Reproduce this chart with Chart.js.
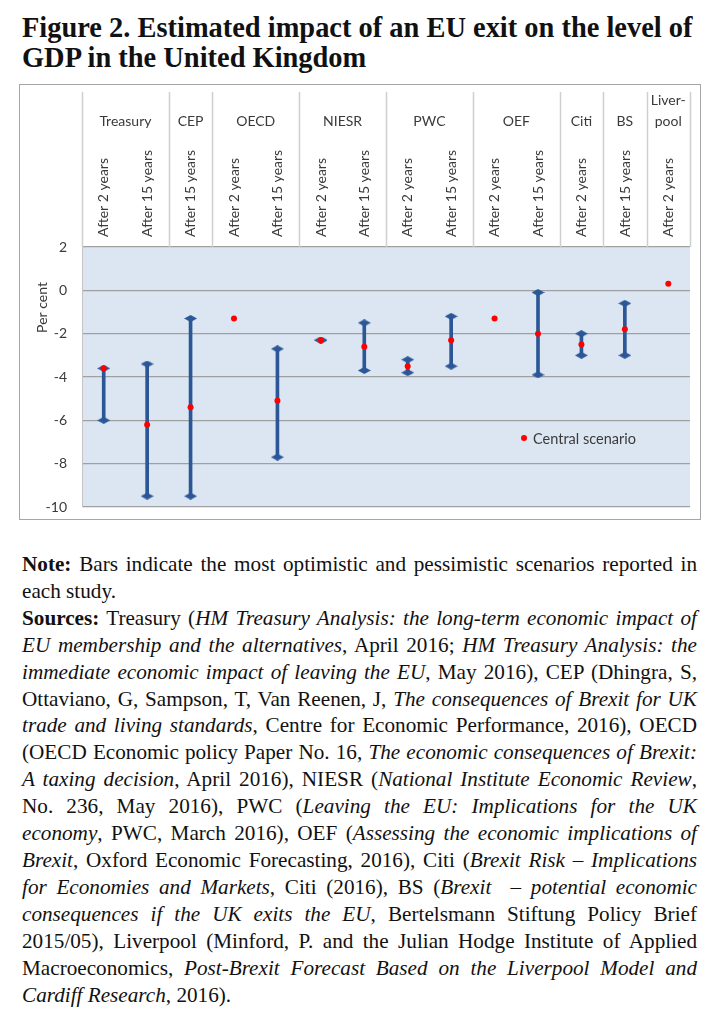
<!DOCTYPE html>
<html>
<head>
<meta charset="utf-8">
<script src="https://cdn.jsdelivr.net/npm/chart.js@4.4.1/dist/chart.umd.min.js"></script>
<style>
    body { margin: 0; background: #fff; width: 723px; height: 1024px; position: relative; overflow: hidden; }
    .titulo {
        position: absolute; left: 22px; top: 12px;
        font-family: "Liberation Serif", serif; font-weight: bold;
        font-size: 29px; line-height: 30px; color: #111;
        transform: scaleX(0.98); transform-origin: left top; white-space: nowrap;
    }
    .caja {
        position: absolute; left: 19px; top: 84px; width: 680px; height: 434px;
        border: 1px solid #a6a6a6;
    }
    .nota {
        position: absolute; left: 22px; top: 551px; width: 675px;
        font-family: "Liberation Serif", serif; font-size: 21.2px; line-height: 26.9px;
        color: #111; text-align: justify;
    }
    .nota p { margin: 0; }
</style>
</head>
<body>

<div class="titulo">Figure 2. Estimated impact of an EU exit on the level of<br>GDP in the United Kingdom</div>

<div class="caja"><canvas id="brexitChart"></canvas></div>

<div class="nota">
    <p><b>Note:</b> Bars indicate the most optimistic and pessimistic scenarios reported in each study.</p>
    <p><b>Sources:</b> Treasury (<i>HM Treasury Analysis: the long-term economic impact of EU membership and the alternatives</i>, April 2016; <i>HM Treasury Analysis: the immediate economic impact of leaving the EU</i>, May 2016), CEP (Dhingra, S, Ottaviano, G, Sampson, T, Van Reenen, J, <i>The consequences of Brexit for UK trade and living standards</i>, Centre for Economic Performance, 2016), OECD (OECD Economic policy Paper No. 16, <i>The economic consequences of Brexit: A taxing decision</i>, April 2016), NIESR (<i>National Institute Economic Review</i>, No. 236, May 2016), PWC (<i>Leaving the EU: Implications for the UK economy</i>,&nbsp;PWC, March 2016), OEF (<i>Assessing the economic implications of Brexit</i>,&nbsp;Oxford Economic Forecasting, 2016), Citi (<i>Brexit Risk – Implications for Economies and Markets</i>, Citi (2016), BS (<i>Brexit&nbsp; – potential economic consequences if the UK exits the EU</i>, Bertelsmann Stiftung Policy Brief 2015/05), Liverpool (Minford, P. and the Julian Hodge Institute of Applied Macroeconomics, <i>Post-Brexit Forecast Based on the Liverpool Model and Cardiff Research</i>, 2016).</p>
</div>

<script>
// datos del grafico

const horizons = ['After 2 years', 'After 15 years', 'After 15 years', 'After 2 years', 'After 15 years',
    'After 2 years', 'After 15 years', 'After 2 years', 'After 15 years', 'After 2 years',
    'After 15 years', 'After 2 years', 'After 15 years', 'After 2 years'];

const studies = ['Treasury', 'CEP', 'OECD', 'NIESR', 'PWC', 'OEF', 'Citi', 'BS', ['Liver-', 'pool']];
// first and last category of each study
const studyStart = [0, 2, 3, 5, 7, 9, 11, 12, 13];
const studyEnd = [1, 2, 4, 6, 8, 10, 11, 12, 13];

const optimistic = [-3.6, -3.4, -1.3, null, -2.7, -2.3, -1.5, -3.2, -1.2, null, -0.1, -2.0, -0.6, null];
const pessimistic = [-6.0, -9.5, -9.5, null, -7.7, -2.3, -3.7, -3.8, -3.5, null, -3.9, -3.0, -3.0, null];
const central = [-3.6, -6.2, -5.4, -1.3, -5.1, -2.3, -2.6, -3.5, -2.3, -1.3, -2.0, -2.5, -1.8, 0.3];

const yTicks = [2, 0, -2, -4, -6, -8, -10];

const azul = '#2B5797';
const rojo = '#FF0000';
const texto = '#3a3a3a';
const fuente = 'Lato, "Open Sans", sans-serif';

// marcador en forma de rombo aplanado
const rombo = document.createElement('canvas');
rombo.width = 13;
rombo.height = 7;
const rc = rombo.getContext('2d');
rc.fillStyle = azul;
rc.beginPath();
rc.moveTo(0, 3.5);
rc.lineTo(6.5, 0);
rc.lineTo(13, 3.5);
rc.lineTo(6.5, 7);
rc.closePath();
rc.fill();

const ranges = optimistic.map((hi, i) => (hi === null ? null : [pessimistic[i], hi]));
const studyCenters = studyStart.map((s, i) => (s + studyEnd[i]) / 2);

// fondo del area, separadores de cabecera, titulo del eje y leyenda
const decoracion = {
    id: 'decoracion',
    beforeDraw(chart) {
        const { ctx, chartArea } = chart;
        ctx.save();
        ctx.fillStyle = '#DCE6F2';
        ctx.fillRect(chartArea.left, chartArea.top, chartArea.right - chartArea.left, chartArea.bottom - chartArea.top);
        ctx.restore();
    },
    afterDraw(chart) {
        const { ctx, chartArea } = chart;
        const x2 = chart.scales.x2;
        ctx.save();
        ctx.strokeStyle = '#cfcfcf';
        ctx.lineWidth = 1.5;
        const bordes = [studyStart[0] - 0.5].concat(studyEnd.map(e => e + 0.5));
        bordes.forEach(b => {
            const px = Math.round(x2.getPixelForValue(b)) + 0.5;
            ctx.beginPath();
            ctx.moveTo(px, x2.top);
            ctx.lineTo(px, chartArea.top);
            ctx.stroke();
        });

        // Per cent
        ctx.fillStyle = texto;
        ctx.font = '14px ' + fuente;
        ctx.textAlign = 'center';
        ctx.textBaseline = 'middle';
        ctx.translate(22, (x2.top + chartArea.bottom) / 2 + 8);
        ctx.rotate(-Math.PI / 2);
        ctx.fillText('Per cent', 0, 0);
        ctx.restore();

        // leyenda
        const lx = chartArea.left + (chartArea.right - chartArea.left) * 0.727;
        const ly = chartArea.top + (chartArea.bottom - chartArea.top) * 0.735;
        ctx.save();
        ctx.fillStyle = rojo;
        ctx.beginPath();
        ctx.arc(lx, ly, 3, 0, Math.PI * 2);
        ctx.fill();
        ctx.fillStyle = texto;
        ctx.font = '14.5px ' + fuente;
        ctx.textBaseline = 'middle';
        ctx.fillText(chart.data.datasets[3].label, lx + 9, ly + 1);
        ctx.restore();
    }
};

const ctx = document.getElementById('brexitChart').getContext('2d');
new Chart(ctx, {
    data: {
        labels: horizons,
        datasets: [
            {
                type: 'bar',
                label: 'Range',
                data: ranges,
                backgroundColor: azul,
                barThickness: 3,
                order: 3
            },
            {
                type: 'line',
                label: 'Optimistic',
                data: optimistic,
                showLine: false,
                pointStyle: rombo,
                pointRadius: 6,
                order: 2
            },
            {
                type: 'line',
                label: 'Pessimistic',
                data: pessimistic,
                showLine: false,
                pointStyle: rombo,
                pointRadius: 6,
                order: 2
            },
            {
                type: 'line',
                label: 'Central scenario',
                data: central,
                showLine: false,
                pointStyle: 'circle',
                pointRadius: 3,
                pointBackgroundColor: rojo,
                pointBorderWidth: 0,
                order: 1
            }
        ]
    },
    options: {
        responsive: true,
        maintainAspectRatio: false,
        animation: false,
        layout: {
            padding: { top: 7, right: 10, left: 0, bottom: 12 }
        },
        plugins: {
            legend: { display: false },
            tooltip: { enabled: false }
        },
        scales: {
            x: {
                type: 'category',
                position: 'top',
                offset: true,
                weight: 0,
                grid: { display: false, drawTicks: false },
                border: { display: false },
                ticks: {
                    minRotation: 90,
                    maxRotation: 90,
                    autoSkip: false,
                    padding: 10,
                    labelOffset: 17,
                    color: texto,
                    font: { family: fuente, size: 14 }
                },
                afterFit(scale) { scale.height = 102; }
            },
            x2: {
                type: 'linear',
                position: 'top',
                weight: 1,
                min: studyStart[0] - 0.5,
                max: studyEnd[studyEnd.length - 1] + 0.5,
                grid: { display: false, drawTicks: false },
                border: { display: false },
                afterBuildTicks(scale) {
                    scale.ticks = studyCenters.map(v => ({ value: v }));
                },
                ticks: {
                    maxRotation: 0,
                    autoSkip: false,
                    padding: 13,
                    color: texto,
                    font: { family: fuente, size: 14, lineHeight: 1.5 },
                    callback: (value, index) => studies[index]
                },
                afterFit(scale) { scale.height = 53; }
            },
            y: {
                min: yTicks[yTicks.length - 1],
                max: yTicks[0],
                afterBuildTicks(scale) {
                    scale.ticks = yTicks.map(v => ({ value: v }));
                },
                grid: { color: '#a0a0a0', lineWidth: 1.2, drawTicks: false },
                border: { display: true, color: '#c4c4c4' },
                ticks: {
                    padding: 15,
                    color: texto,
                    font: { family: fuente, size: 14 }
                },
                afterFit(scale) {
                    scale.width = 62;
                    scale.paddingTop = 0;
                    scale.paddingBottom = 0;
                }
            }
        }
    },
    plugins: [decoracion]
});
</script>
</body>
</html>
